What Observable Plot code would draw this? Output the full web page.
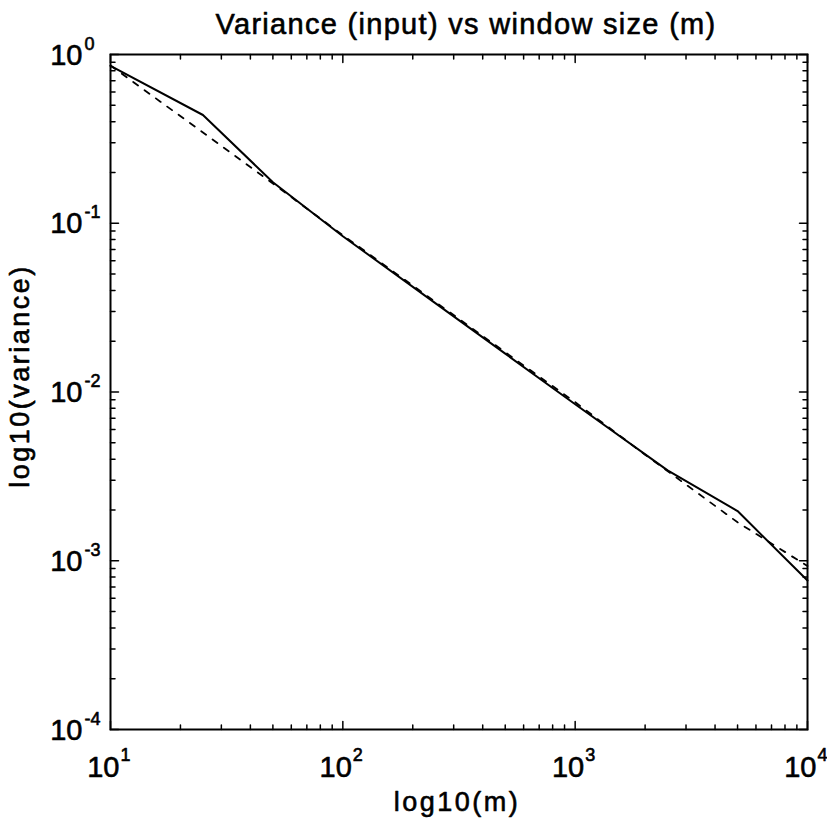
<!DOCTYPE html>
<html><head><meta charset="utf-8">
<script src="https://cdn.jsdelivr.net/npm/d3@7"></script>
<script src="https://cdn.jsdelivr.net/npm/@observablehq/plot@0.6"></script>
<style>
body{margin:0;background:#fff}
</style></head><body><div id="chart"></div>
<script>
// measured variance of the input vs window size m (solid)
const windowSize = [10, 25, 50, 100, 250, 500, 1000, 2500, 5000, 10000];
const varianceInput = [0.855, 0.438, 0.175, 0.0838, 0.0336, 0.01687, 0.00846, 0.00343, 0.00197, 0.000764];
// reference curve (dashed)
const windowSizeRef = [10, 25, 50, 100, 250, 500, 1000, 2000, 5000, 10000];
const varianceRef = [0.86, 0.345, 0.172, 0.085, 0.0342, 0.0172, 0.0087, 0.00425, 0.00169, 0.00093];
// ticks
const xTickExp = [1, 2, 3, 4];
const yTickExp = [-4, -3, -2, -1, 0];
const minorMult = [2, 3, 4, 5, 6, 7, 8, 9];
const titleText = "Variance (input) vs window size (m)";
const xLabelText = "log10(m)";
const yLabelText = "log10(variance)";

const solid = windowSize.map((m, i) => ({m, v: varianceInput[i]}));
const dashed = windowSizeRef.map((m, i) => ({m, v: varianceRef[i]}));
const xMajor = xTickExp.map(e => 10 ** e);
const yMajor = yTickExp.map(e => 10 ** e);
const xMinor = xTickExp.slice(0, -1).flatMap(e => minorMult.map(k => k * 10 ** e));
const yMinor = yTickExp.slice(0, -1).flatMap(e => minorMult.map(k => k * 10 ** e));

const tickShape = {draw(context, l) { context.moveTo(0, 0); context.lineTo(0, -l); }};
const font = "Liberation Sans, Arial, Helvetica, sans-serif";
const tk = (data, ch, anchor, rotate, len) => Plot.vector(data, {
  [ch]: d => d, frameAnchor: anchor, rotate, length: len, anchor: "start",
  shape: tickShape, stroke: "black", strokeWidth: 1.5
});
const txt = {fill: "black", stroke: "black", strokeWidth: 0.6};

const chart = Plot.plot({
  width: 827, height: 822,
  marginLeft: 110, marginRight: 20, marginTop: 54, marginBottom: 93,
  style: {fontFamily: font, background: "white", color: "black"},
  x: {type: "log", domain: [10, 1e4], axis: null},
  y: {type: "log", domain: [1e-4, 1], axis: null},
  marks: [
    Plot.line(dashed, {x: "m", y: "v", stroke: "black", strokeWidth: 1.8, strokeDasharray: "6,8"}),
    Plot.line(solid, {x: "m", y: "v", stroke: "black", strokeWidth: 2}),
    tk(xMajor, "x", "bottom", 0, 8), tk(xMinor, "x", "bottom", 0, 4.5),
    tk(xMajor, "x", "top", 180, 8), tk(xMinor, "x", "top", 180, 4.5),
    tk(yMajor, "y", "left", 90, 8), tk(yMinor, "y", "left", 90, 4.5),
    tk(yMajor, "y", "right", 270, 8), tk(yMinor, "y", "right", 270, 4.5),
    Plot.frame({stroke: "black", strokeWidth: 2}),
    Plot.text(xTickExp, {x: e => 10 ** e, text: () => "10", frameAnchor: "bottom", textAnchor: "end", lineAnchor: "bottom", dx: 9, dy: 47, fontSize: 29, ...txt}),
    Plot.text(xTickExp, {x: e => 10 ** e, text: e => String(e), frameAnchor: "bottom", textAnchor: "start", lineAnchor: "bottom", dx: 10, dy: 31, fontSize: 18, ...txt}),
    Plot.text(yTickExp, {y: e => 10 ** e, text: () => "10", frameAnchor: "left", textAnchor: "end", lineAnchor: "bottom", dx: -28, dy: 10, fontSize: 29, ...txt}),
    Plot.text(yTickExp, {y: e => 10 ** e, text: e => String(e), frameAnchor: "left", textAnchor: "start", lineAnchor: "bottom", dx: -26, dy: -5, fontSize: 18, ...txt}),
    Plot.text([titleText], {text: d => d, frameAnchor: "top", textAnchor: "middle", lineAnchor: "bottom", dx: 7, dy: -21, fontSize: 29, ...txt}),
    Plot.text([xLabelText], {text: d => d, frameAnchor: "bottom", textAnchor: "middle", lineAnchor: "bottom", dx: -2, dy: 81, fontSize: 27, ...txt}),
    Plot.text([yLabelText], {text: d => d, frameAnchor: "left", textAnchor: "middle", lineAnchor: "bottom", rotate: -90, dx: -82, dy: -16, fontSize: 27, ...txt})
  ]
});
d3.select(chart).selectAll("text").each(function () {
  const t = this.textContent;
  if (t === titleText) this.style.letterSpacing = "1.3px";
  if (t === xLabelText || t === yLabelText) this.style.letterSpacing = "2.5px";
});
document.getElementById("chart").append(chart);
</script></body></html>
